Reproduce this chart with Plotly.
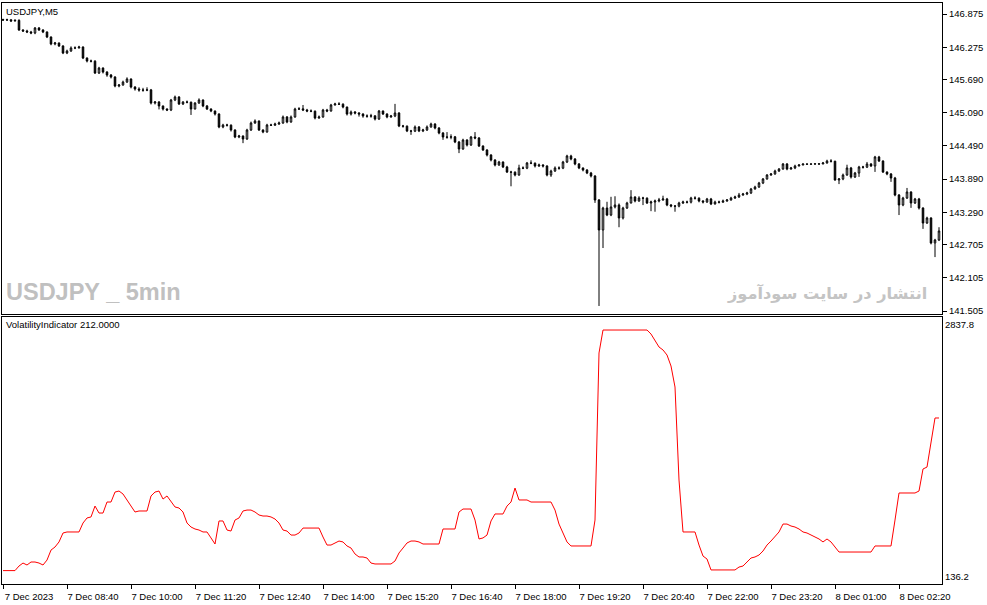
import plotly.graph_objects as go

# USDJPY M5, 235 bars
first_open = 146.775

closes = [
    146.766, 146.770, 146.748, 146.760, 146.586, 146.568, 146.550, 146.532, 146.622, 146.586,
    146.550, 146.459, 146.333, 146.351, 146.297, 146.170, 146.206, 146.260, 146.262, 146.278,
    146.079, 146.025, 146.022, 145.808, 145.898, 145.826, 145.772, 145.736, 145.573, 145.591,
    145.645, 145.700, 145.555, 145.519, 145.501, 145.498, 145.503, 145.266, 145.284, 145.212,
    145.157, 145.139, 145.320, 145.374, 145.248, 145.284, 145.281, 145.157, 145.266, 145.320,
    145.212, 145.157, 145.121, 145.067, 144.832, 144.868, 144.865, 144.778, 144.651, 144.669,
    144.615, 144.778, 144.904, 144.940, 144.778, 144.741, 144.868, 144.865, 144.886, 144.904,
    145.013, 144.922, 145.013, 145.157, 145.160, 145.139, 145.121, 145.118, 144.995, 145.013,
    145.139, 145.121, 145.230, 145.248, 145.245, 145.193, 145.067, 145.103, 145.085, 145.067,
    145.031, 145.028, 145.034, 144.976, 145.121, 145.067, 145.013, 145.031, 145.085, 144.850,
    144.847, 144.760, 144.757, 144.832, 144.760, 144.778, 144.832, 144.886, 144.814, 144.723,
    144.651, 144.648, 144.654, 144.561, 144.434, 144.597, 144.506, 144.651, 144.633, 144.488,
    144.416, 144.326, 144.235, 144.145, 144.199, 144.109, 144.018, 144.015, 143.964, 144.091,
    144.088, 144.181, 144.178, 144.127, 144.145, 144.127, 143.964, 144.036, 144.091, 144.088,
    144.199, 144.308, 144.253, 144.163, 144.091, 144.054, 144.000, 143.946, 143.512, 142.970,
    143.367, 143.241, 143.386, 143.422, 143.187, 143.367, 143.458, 143.566, 143.494, 143.548,
    143.545, 143.458, 143.476, 143.494, 143.512, 143.530, 143.422, 143.404, 143.401, 143.458,
    143.476, 143.473, 143.548, 143.545, 143.494, 143.476, 143.530, 143.440, 143.476, 143.473,
    143.494, 143.512, 143.548, 143.566, 143.602, 143.620, 143.639, 143.711, 143.747, 143.819,
    143.892, 143.964, 143.982, 144.036, 144.072, 144.163, 144.072, 144.091, 144.127, 144.145,
    144.163, 144.160, 144.163, 144.166, 144.163, 144.181, 144.217, 144.214, 143.874, 143.892,
    143.964, 144.091, 143.928, 144.000, 144.109, 144.106, 144.163, 144.127, 144.290, 144.217,
    144.018, 143.982, 143.910, 143.602, 143.422, 143.548, 143.657, 143.458, 143.530, 143.367,
    143.096, 143.187, 142.735, 142.789, 142.952,
]

highs = [
    146.79, 146.79, 146.78, 146.78, 146.78, 146.60, 146.59, 146.57, 146.64, 146.64,
    146.60, 146.56, 146.47, 146.37, 146.36, 146.31, 146.23, 146.29, 146.29, 146.30,
    146.29, 146.09, 146.05, 146.04, 145.92, 145.91, 145.84, 145.79, 145.75, 145.61,
    145.67, 145.73, 145.71, 145.57, 145.55, 145.54, 145.55, 145.52, 145.30, 145.30,
    145.22, 145.17, 145.34, 145.40, 145.39, 145.30, 145.31, 145.29, 145.28, 145.35,
    145.33, 145.23, 145.17, 145.13, 145.08, 144.89, 144.89, 144.88, 144.79, 144.69,
    144.68, 144.80, 144.93, 144.97, 144.95, 144.79, 144.89, 144.89, 144.91, 144.93,
    145.04, 145.03, 145.04, 145.18, 145.19, 145.23, 145.16, 145.15, 145.13, 145.04,
    145.16, 145.16, 145.25, 145.27, 145.28, 145.26, 145.20, 145.13, 145.12, 145.10,
    145.08, 145.06, 145.07, 145.04, 145.14, 145.13, 145.08, 145.05, 145.25, 145.10,
    144.87, 144.86, 144.78, 144.86, 144.85, 144.80, 144.86, 144.91, 144.90, 144.83,
    144.74, 144.74, 144.70, 144.67, 144.58, 144.62, 144.61, 144.67, 144.74, 144.65,
    144.50, 144.43, 144.34, 144.25, 144.22, 144.21, 144.13, 144.04, 144.03, 144.15,
    144.12, 144.20, 144.23, 144.19, 144.17, 144.16, 144.14, 144.06, 144.12, 144.12,
    144.22, 144.33, 144.33, 144.27, 144.18, 144.10, 144.07, 144.02, 143.96, 143.53,
    143.39, 143.48, 143.57, 143.58, 143.45, 143.39, 143.48, 143.69, 143.58, 143.58,
    143.57, 143.56, 143.50, 143.52, 143.55, 143.59, 143.55, 143.44, 143.42, 143.48,
    143.50, 143.50, 143.57, 143.58, 143.56, 143.51, 143.55, 143.55, 143.50, 143.50,
    143.52, 143.53, 143.57, 143.59, 143.64, 143.64, 143.66, 143.73, 143.77, 143.84,
    143.91, 143.98, 144.00, 144.06, 144.09, 144.18, 144.18, 144.11, 144.15, 144.16,
    144.17, 144.17, 144.17, 144.17, 144.17, 144.20, 144.24, 144.25, 144.22, 143.91,
    143.99, 144.15, 144.11, 144.02, 144.13, 144.13, 144.20, 144.18, 144.31, 144.31,
    144.23, 144.03, 144.00, 143.93, 143.62, 143.57, 143.73, 143.67, 143.55, 143.55,
    143.38, 143.21, 143.20, 142.81, 143.02,
]

lows = [
    146.75, 146.75, 146.73, 146.74, 146.57, 146.55, 146.53, 146.51, 146.51, 146.57,
    146.53, 146.44, 146.31, 146.31, 146.28, 146.15, 146.15, 146.19, 146.24, 146.25,
    146.06, 146.00, 146.00, 145.79, 145.79, 145.80, 145.74, 145.71, 145.55, 145.55,
    145.58, 145.63, 145.53, 145.49, 145.47, 145.47, 145.48, 145.24, 145.24, 145.15,
    145.13, 145.12, 145.12, 145.30, 145.23, 145.23, 145.26, 145.05, 145.15, 145.25,
    145.19, 145.14, 145.10, 145.04, 144.81, 144.81, 144.84, 144.75, 144.63, 144.63,
    144.54, 144.60, 144.76, 144.89, 144.76, 144.72, 144.73, 144.85, 144.85, 144.87,
    144.89, 144.90, 144.91, 145.00, 145.14, 145.12, 145.10, 145.10, 144.97, 144.98,
    145.00, 145.10, 145.11, 145.22, 145.23, 145.17, 145.04, 145.04, 145.06, 145.02,
    145.00, 145.00, 145.00, 144.95, 144.96, 145.05, 144.99, 145.00, 145.01, 144.83,
    144.82, 144.74, 144.69, 144.74, 144.74, 144.74, 144.76, 144.82, 144.79, 144.70,
    144.60, 144.62, 144.61, 144.54, 144.36, 144.42, 144.48, 144.49, 144.61, 144.47,
    144.40, 144.30, 144.21, 144.12, 144.13, 144.09, 144.00, 143.76, 143.94, 143.95,
    144.07, 144.07, 144.16, 144.10, 144.11, 144.10, 143.94, 143.93, 144.02, 144.06,
    144.07, 144.18, 144.23, 144.14, 144.07, 144.03, 143.98, 143.92, 143.46, 141.596,
    142.644, 143.22, 143.22, 143.36, 143.02, 143.16, 143.35, 143.45, 143.47, 143.48,
    143.42, 143.44, 143.31, 143.30, 143.47, 143.50, 143.40, 143.38, 143.30, 143.38,
    143.44, 143.45, 143.45, 143.52, 143.47, 143.45, 143.46, 143.42, 143.43, 143.45,
    143.46, 143.48, 143.50, 143.53, 143.55, 143.59, 143.60, 143.62, 143.70, 143.73,
    143.80, 143.88, 143.95, 143.97, 144.02, 144.06, 144.05, 144.06, 144.07, 144.12,
    144.14, 144.15, 144.15, 144.15, 144.15, 144.16, 144.17, 144.19, 143.86, 143.80,
    143.87, 143.95, 143.90, 143.91, 143.93, 144.08, 144.09, 144.11, 144.02, 144.20,
    144.00, 143.96, 143.84, 143.58, 143.24, 143.40, 143.53, 143.37, 143.44, 143.34,
    142.99, 143.08, 142.71, 142.48, 142.77,
]

volatility = [
    205, 205, 205, 205, 254, 286, 265, 297, 297, 286,
    265, 318, 425, 458, 512, 608, 619, 619, 619, 619,
    715, 769, 780, 897, 822, 822, 940, 940, 1047, 1058,
    1026, 962, 887, 833, 844, 844, 844, 1005, 1047, 1058,
    972, 1005, 940, 887, 876, 833, 715, 672, 651, 640,
    619, 619, 555, 490, 737, 737, 640, 629, 747, 769,
    844, 854, 854, 833, 801, 790, 790, 780, 758, 715,
    640, 629, 586, 586, 608, 661, 661, 661, 661, 661,
    565, 479, 479, 501, 522, 512, 469, 447, 383, 351,
    351, 340, 286, 276, 276, 276, 276, 276, 308, 394,
    447, 501, 522, 522, 512, 490, 490, 490, 490, 490,
    651, 651, 651, 651, 833, 865, 865, 865, 747, 544,
    555, 586, 737, 812, 812, 812, 897, 940, 1090, 962,
    962, 962, 940, 940, 940, 940, 940, 940, 854, 704,
    608, 512, 469, 469, 469, 469, 469, 469, 747, 2538,
    2784, 2784, 2784, 2784, 2784, 2784, 2784, 2784, 2784, 2784,
    2784, 2784, 2741, 2666, 2602, 2570, 2516, 2398, 2173, 1176,
    619, 619, 619, 619, 479, 361, 329, 212, 212, 212,
    212, 212, 212, 212, 243, 254, 297, 340, 351, 372,
    415, 479, 522, 576, 619, 704, 704, 683, 672, 651,
    619, 608, 586, 565, 544, 512, 544, 512, 458, 404,
    404, 404, 404, 404, 404, 404, 404, 404, 469, 469,
    469, 469, 469, 747, 1037, 1037, 1037, 1037, 1037, 1058,
    1294, 1315, 1594, 1841, 1841,
]

time_ticks = [0, 16, 32, 48, 64, 80, 96, 112, 128, 144, 160, 176, 192, 208, 224]
time_labels = [
    "7 Dec 2023", "7 Dec 08:40", "7 Dec 10:00", "7 Dec 11:20", "7 Dec 12:40",
    "7 Dec 14:00", "7 Dec 15:20", "7 Dec 16:40", "7 Dec 18:00", "7 Dec 19:20",
    "7 Dec 20:40", "7 Dec 22:00", "7 Dec 23:20", "8 Dec 01:00", "8 Dec 02:20",
]
price_ticks = [146.875, 146.275, 145.690, 145.090, 144.490,
               143.890, 143.290, 142.705, 142.105, 141.505]
vol_ticks = [2837.8, 136.2]

bars = list(range(len(closes)))
opens = [first_open] + closes[:-1]
highs = [max(h, o, c) for h, o, c in zip(highs, opens, closes)]
lows = [min(l, o, c) for l, o, c in zip(lows, opens, closes)]

W, H = 987, 605
font = "Liberation Sans, Arial, sans-serif"

fig = go.Figure()

fig.add_trace(go.Candlestick(
    x=bars, open=opens, high=highs, low=lows, close=closes,
    xaxis="x2", yaxis="y",
    increasing=dict(line=dict(color="black", width=1), fillcolor="white"),
    decreasing=dict(line=dict(color="black", width=1), fillcolor="black"),
    whiskerwidth=0, showlegend=False, hoverinfo="skip",
))

fig.add_trace(go.Scatter(
    x=bars, y=volatility, xaxis="x", yaxis="y2", mode="lines",
    line=dict(color="#ff0000", width=1), showlegend=False, hoverinfo="skip",
))

axis_common = dict(showline=True, mirror=True, linecolor="black", linewidth=1,
                   showgrid=False, zeroline=False, automargin=False,
                   tickfont=dict(family=font, size=9.5, color="black"))

fig.update_layout(
    width=W, height=H,
    margin=dict(l=0, r=0, t=0, b=0, pad=0),
    paper_bgcolor="white", plot_bgcolor="white",
    boxgap=0.45,
    xaxis=dict(domain=[2 / W, 942 / W], anchor="y2", range=[-0.25, 234.75],
               tickmode="array", tickvals=time_ticks, ticktext=time_labels,
               ticks="outside", ticklen=4, tickcolor="black", ticklabelshift=26,
               rangeslider=dict(visible=False), **axis_common),
    xaxis2=dict(domain=[2 / W, 942 / W], anchor="y", matches="x",
                showticklabels=False, ticks="",
                rangeslider=dict(visible=False), **axis_common),
    yaxis=dict(domain=[1 - 314 / H, 1 - 3 / H], anchor="x2", side="right",
               range=[141.451, 147.074], tickmode="array", tickvals=price_ticks,
               ticktext=["%.3f" % v for v in price_ticks],
               ticks="outside", ticklen=4, tickcolor="black", **axis_common),
    yaxis2=dict(domain=[1 - 584 / H, 1 - 317 / H], anchor="x", side="right",
                range=[61.3, 2923.6], tickmode="array", tickvals=vol_ticks,
                ticktext=["%.1f" % v for v in vol_ticks],
                ticks="", **axis_common),
)

fig.add_annotation(text="USDJPY,M5", xref="paper", yref="paper",
                   x=4 / W, y=1 - 11 / H, xanchor="left", yanchor="middle",
                   showarrow=False, font=dict(family=font, size=9.5, color="black"))
fig.add_annotation(text="VolatilityIndicator 212.0000", xref="paper", yref="paper",
                   x=4 / W, y=1 - 324 / H, xanchor="left", yanchor="middle",
                   showarrow=False, font=dict(family=font, size=9.5, color="black"))
fig.add_annotation(text="<b>USDJPY _ 5min</b>", xref="paper", yref="paper",
                   x=4 / W, y=1 - 292 / H, xanchor="left", yanchor="middle",
                   showarrow=False,
                   font=dict(family="Liberation Sans", size=23.5, color="#c0c0c0"))
fig.add_annotation(text="<b>انتشار در سایت سودآموز</b>", xref="paper", yref="paper",
                   x=929 / W, y=1 - 293 / H, xanchor="right", yanchor="middle",
                   showarrow=False,
                   font=dict(family="DejaVu Sans", size=16.2, color="#c4c4c4"))

# drop the browser's default 8px body margin so the figure sits at 0,0
fig.write_html("out.html",
               config={"displayModeBar": False, "responsive": False},
               post_script="document.body.style.margin='0';"
                           "document.body.style.overflow='hidden';")
